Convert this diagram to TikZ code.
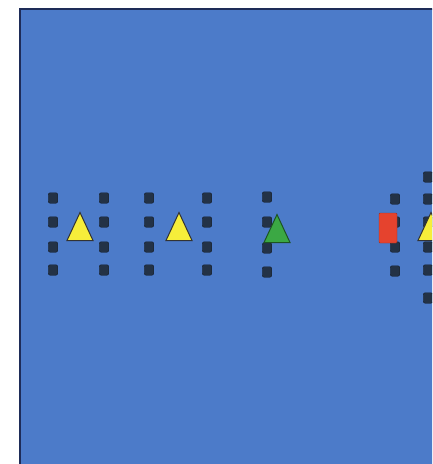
\documentclass[tikz,border=0pt]{standalone}
\usepackage{tikz}
\usetikzlibrary{shapes.geometric}
\definecolor{fieldblue}{HTML}{4C7BC9}
\definecolor{fieldedge}{HTML}{1E2C58}
\definecolor{paddark}{HTML}{233246}
\definecolor{padedge}{HTML}{141C28}
\definecolor{coneyellow}{HTML}{F6EE3A}
\definecolor{conegreen}{HTML}{3BA844}
\definecolor{conered}{HTML}{E5432E}

\begin{document}
\begin{tikzpicture}[x=1pt, y=-1pt,
    pad/.style={rectangle, draw=padedge, fill=paddark, rounded corners=2pt,
                minimum width=9.5pt, minimum height=10.5pt, inner sep=0pt},
    cone/.style={isosceles triangle, shape border rotate=90,
                 isosceles triangle stretches, minimum width=26pt,
                 minimum height=28pt, inner sep=0pt, line width=1pt,
                 anchor=south},
    ycone/.style={cone, fill=coneyellow, draw=black!80},
    gcone/.style={cone, fill=conegreen, draw=conegreen!50!black},
    block/.style={rectangle, fill=conered, draw=conered!70!black,
                  rounded corners=1pt, minimum width=18pt, minimum height=30pt,
                  inner sep=0pt},
]
    \useasboundingbox (0,0) rectangle (432,464);
    \clip (0,0) rectangle (432,464);
    \fill[white] (0,0) rectangle (432,464);
    \draw[fill=fieldblue, draw=fieldedge, line width=1.2pt] (20,9) rectangle (445,475);

    % first gate
    \foreach \y [count=\i] in {198,222,247,270} {
        \node[pad] (a\i) at (53,\y) {};
        \node[pad] (b\i) at (104,\y) {};
    }
    \node[ycone] (c1) at (80,241) {};

    % second gate
    \foreach \y [count=\i] in {198,222,247,270} {
        \node[pad] (d\i) at (149,\y) {};
        \node[pad] (e\i) at (207,\y) {};
    }
    \node[ycone] (c2) at (179,241) {};

    % single line with green cone
    \foreach \y [count=\i] in {197,222,248,272}
        \node[pad] (f\i) at (267,\y) {};
    \node[gcone] (c3) at (277,243) {};

    % red block and last line
    \foreach \y [count=\i] in {199,222,247,271}
        \node[pad] (g\i) at (395,\y) {};
    \node[block] (r1) at (388,228) {};
    \foreach \y [count=\i] in {177,199,222,247,270,298}
        \node[pad] (h\i) at (428,\y) {};
    \node[ycone] (c4) at (431,241) {};
\end{tikzpicture}
\end{document}
